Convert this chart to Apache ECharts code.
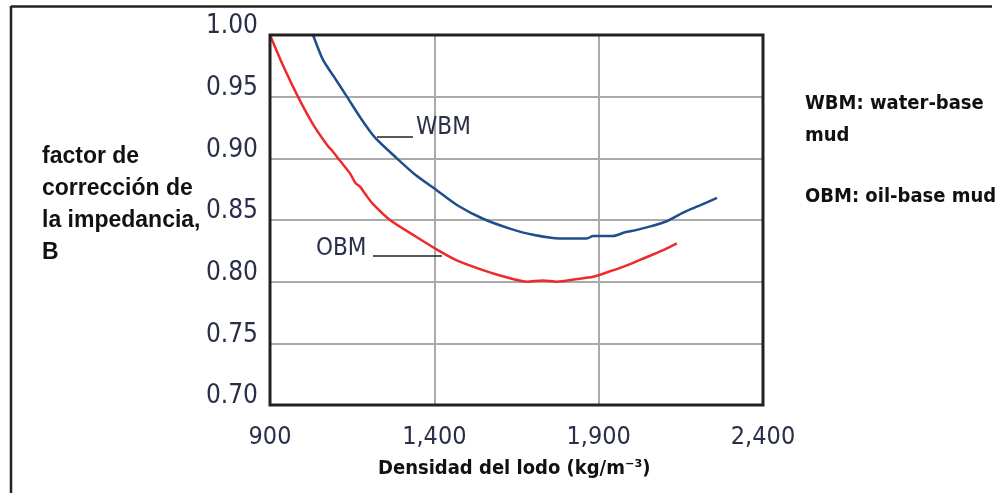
<!DOCTYPE html>
<html><head><meta charset="utf-8">
<script src="https://cdn.jsdelivr.net/npm/echarts@6/dist/echarts.min.js"></script>
<style>html,body{margin:0;padding:0;background:#fff}#c{width:995px;height:493px}</style>
</head><body><div id="c"></div>
<script>
const xTicks = [900, 1400, 1900, 2400];
const yTicks = [0.70, 0.75, 0.80, 0.85, 0.90, 0.95, 1.00];
const wbmX = [1031,1061,1095,1134,1175,1219,1286,1345,1408,1470,1548,1630,1700,1782,1864,1883,1944,1980,2016,2060,2107,2157,2210,2260];
const wbmY = [1.00,0.980,0.966,0.950,0.933,0.917,0.900,0.886,0.874,0.862,0.851,0.843,0.838,0.835,0.835,0.837,0.837,0.840,0.842,0.845,0.849,0.856,0.862,0.868];
const obmX = [900,940,985,1030,1076,1090,1113,1143,1160,1174,1190,1213,1265,1347,1408,1470,1530,1600,1681,1730,1773,1830,1883,1930,1974,2020,2056,2100,2138];
const obmY = [1.00,0.975,0.950,0.928,0.910,0.906,0.898,0.888,0.880,0.877,0.871,0.863,0.850,0.836,0.826,0.817,0.811,0.805,0.800,0.801,0.800,0.802,0.804,0.808,0.812,0.817,0.821,0.826,0.831];
const yTitle = 'factor de\ncorrección de\nla impedancia,\nB';
const xTitle = 'Densidad del lodo (kg/m⁻³)';
const note1 = 'WBM: water-base\nmud';
const note2 = 'OBM: oil-base mud';

const chart = echarts.init(document.getElementById('c'));
const lblFont = "'DejaVu Sans Condensed','DejaVu Sans',sans-serif";
const tickColor = '#2a2e48';
chart.setOption({
  animation:false,
  grid:{left:270, top:35, right:232, bottom:88, show:true, borderColor:'#222', borderWidth:3, z:5},
  xAxis:{type:'value', min:900, max:2400, interval:500,
    axisLine:{show:false}, axisTick:{show:false},
    splitLine:{lineStyle:{color:'#aaa', width:2}},
    axisLabel:{margin:20, fontSize:25, fontFamily:lblFont, color:tickColor,
      formatter:v=>xTicks.includes(v)?v.toLocaleString('en-US'):''}},
  yAxis:{type:'value', min:0.70, max:1.00, interval:0.05,
    axisLine:{show:false}, axisTick:{show:false},
    splitLine:{lineStyle:{color:'#aaa', width:2}},
    axisLabel:{margin:12, fontSize:26, lineHeight:17, fontFamily:lblFont, color:tickColor, verticalAlign:'bottom',
      formatter:v=>{const t=yTicks.find(k=>Math.abs(k-v)<1e-6);return t!==undefined?t.toFixed(2):'';}}},
  series:[
    {type:'line', name:'WBM', data:wbmX.map((x,i)=>[x,wbmY[i]]), smooth:0.25, showSymbol:false,
      lineStyle:{color:'#1f4e8c', width:2.5}},
    {type:'line', name:'OBM', data:obmX.map((x,i)=>[x,obmY[i]]), smooth:0.25, showSymbol:false,
      lineStyle:{color:'#ee2a2a', width:2.5}}
  ],
  graphic:[
    {type:'line', shape:{x1:11,y1:6.5,x2:992,y2:6.5}, style:{stroke:'#222', lineWidth:2.5}},
    {type:'line', shape:{x1:11,y1:6,x2:11,y2:493}, style:{stroke:'#222', lineWidth:2.5}},
    {type:'text', left:42, top:141, style:{text:yTitle, font:"bold 23px 'Liberation Sans',Arial,sans-serif", fill:'#111', lineHeight:32}},
    {type:'text', left:378, top:459, style:{text:xTitle, font:"bold 20px 'DejaVu Sans Condensed','DejaVu Sans',sans-serif", fill:'#111'}},
    {type:'text', left:805, top:88, style:{text:note1, font:"bold 20px 'DejaVu Sans Condensed','DejaVu Sans',sans-serif", fill:'#111', lineHeight:32}},
    {type:'text', left:805, top:187, style:{text:note2, font:"bold 20px 'DejaVu Sans Condensed','DejaVu Sans',sans-serif", fill:'#111'}},
    {type:'line', shape:{x1:377,y1:137,x2:413,y2:137}, style:{stroke:'#222', lineWidth:1.5}, z:10},
    {type:'text', left:416, top:116, style:{text:'WBM', font:"24px 'DejaVu Sans Condensed','DejaVu Sans',sans-serif", fill:'#2a2e48'}, z:10},
    {type:'line', shape:{x1:373,y1:256,x2:442,y2:256}, style:{stroke:'#222', lineWidth:1.5}, z:10},
    {type:'text', left:316, top:237, style:{text:'OBM', font:"24px 'DejaVu Sans Condensed','DejaVu Sans',sans-serif", fill:'#2a2e48'}, z:10}
  ]
});
</script></body></html>
